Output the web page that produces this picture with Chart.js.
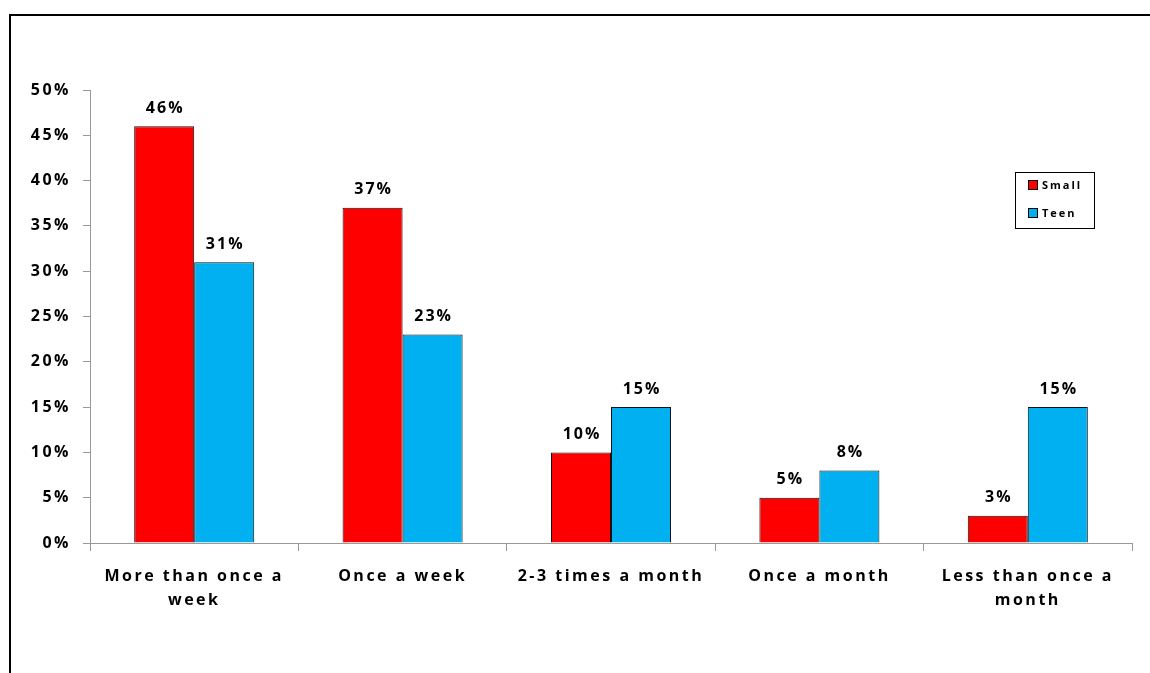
<!DOCTYPE html>
<html>
<head>
<meta charset="utf-8">
<script src="https://cdn.jsdelivr.net/npm/chart.js@4.4.0/dist/chart.umd.min.js"></script>
<style>
  html, body { margin: 0; padding: 0; background: #fff; overflow: hidden; }
  #wrap { position: relative; width: 1150px; height: 673px; }
  #frame { position: absolute; left: 9px; top: 14px; width: 1200px; height: 700px;
           border-top: 2px solid #000; border-left: 2px solid #000; pointer-events: none; }
</style>
</head>
<body>
<div id="wrap">
  <canvas id="chart" width="1150" height="673"></canvas>
  <div id="frame"></div>
</div>
<script>
// Datos del gráfico
const categories = [
  ['More than once a', 'week'],
  'Once a week',
  '2-3 times a month',
  'Once a month',
  ['Less than once a', 'month']
];
const seriesNames = ['Small', 'Teen'];
const smallValues = [46, 37, 10, 5, 3];
const teenValues = [31, 23, 15, 8, 15];
const seriesColors = ['#FF0000', '#00B0F0'];
const yTicks = [0, 5, 10, 15, 20, 25, 30, 35, 40, 45, 50];

const FONT = '"Open Sans", "DejaVu Sans", sans-serif';
const SPACING = '2.5px';

// Espaciado de letras (se reinicia al redimensionar el canvas)
const spacingPlugin = {
  id: 'spacing',
  beforeUpdate(chart) { chart.ctx.letterSpacing = SPACING; },
  beforeDraw(chart) { chart.ctx.letterSpacing = SPACING; }
};

// Etiquetas de valor sobre cada barra
const valueLabels = {
  id: 'valueLabels',
  afterDatasetsDraw(chart) {
    const ctx = chart.ctx;
    ctx.save();
    ctx.letterSpacing = '2px';
    ctx.font = 'bold 16px ' + FONT;
    ctx.fillStyle = '#000';
    ctx.textAlign = 'center';
    ctx.textBaseline = 'bottom';
    chart.data.datasets.forEach((ds, i) => {
      chart.getDatasetMeta(i).data.forEach((bar, j) => {
        ctx.fillText(ds.data[j] + '%', bar.x + 1, bar.y - 10);
      });
    });
    ctx.restore();
  }
};

// Leyenda dibujada a mano dentro del área
const boxLegend = {
  id: 'boxLegend',
  afterDraw(chart) {
    const ctx = chart.ctx;
    const x = 1015, y = 172, w = 79, h = 56;
    ctx.save();
    ctx.fillStyle = '#fff';
    ctx.fillRect(x, y, w, h);
    ctx.strokeStyle = '#000';
    ctx.lineWidth = 1;
    ctx.strokeRect(x + 0.5, y + 0.5, w, h);
    ctx.letterSpacing = '2px';
    ctx.font = 'bold 11px ' + FONT;
    ctx.textBaseline = 'middle';
    chart.data.datasets.forEach((ds, i) => {
      const cy = y + 13 + i * 28;
      ctx.fillStyle = ds.backgroundColor;
      ctx.fillRect(x + 13, cy - 4.5, 9, 9);
      ctx.strokeStyle = '#000';
      ctx.strokeRect(x + 13.5, cy - 4.5, 9, 9);
      ctx.fillStyle = '#000';
      ctx.fillText(ds.label, x + 27, cy + 1);
    });
    ctx.restore();
  }
};

const ctx = document.getElementById('chart').getContext('2d');

new Chart(ctx, {
  type: 'bar',
  data: {
    labels: categories,
    datasets: [
      {
        label: seriesNames[0],
        data: smallValues,
        backgroundColor: seriesColors[0],
        borderColor: '#111',
        borderWidth: 1
      },
      {
        label: seriesNames[1],
        data: teenValues,
        backgroundColor: seriesColors[1],
        borderColor: '#111',
        borderWidth: 1
      }
    ]
  },
  options: {
    responsive: false,
    animation: false,
    devicePixelRatio: 1,
    layout: { padding: { top: 90, right: 18, left: 0, bottom: 0 } },
    datasets: { bar: { categoryPercentage: 0.576, barPercentage: 1.0 } },
    plugins: {
      legend: { display: false },
      tooltip: { enabled: false }
    },
    scales: {
      x: {
        grid: { display: true, drawOnChartArea: false, offset: true, color: '#999', tickLength: 8 },
        border: { color: '#999' },
        ticks: {
          color: '#000',
          font: { family: FONT, size: 16, weight: 'bold', lineHeight: 1.5 },
          padding: 13,
          maxRotation: 0,
          autoSkip: false
        },
        afterFit(scale) { scale.height = 130; }
      },
      y: {
        min: 0,
        max: 50,
        grid: { display: true, drawOnChartArea: false, color: '#999', tickLength: 7 },
        border: { color: '#999' },
        afterBuildTicks(scale) { scale.ticks = yTicks.map(v => ({ value: v })); },
        ticks: {
          color: '#000',
          font: { family: FONT, size: 16, weight: 'bold' },
          padding: 12,
          callback: v => v + '%'
        },
        afterFit(scale) { scale.width = 90; }
      }
    }
  },
  plugins: [spacingPlugin, valueLabels, boxLegend]
});
</script>
</body>
</html>
